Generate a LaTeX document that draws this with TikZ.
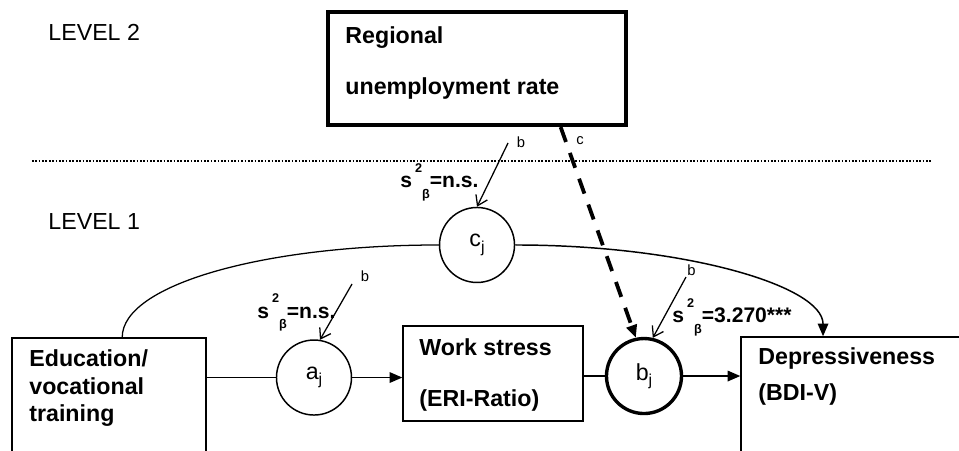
\documentclass[tikz,border=0pt]{standalone}
\usepackage{fontspec}
\setmainfont{Liberation Sans}
\usetikzlibrary{arrows.meta}
\newcommand{\sqbeta}{s\hspace{1.4pt}\raisebox{7.5pt}{\fontsize{6}{6}\selectfont 2}\raisebox{-4.8pt}{\fontsize{6}{6}\selectfont β}}
\newcommand{\subj}[1]{#1\raisebox{-2.5pt}{\fontsize{7.5}{8}\selectfont j}}
\begin{document}
\begin{tikzpicture}[
  box/.style={draw, line width=0.7pt, inner sep=0pt},
  par/.style={draw, circle, line width=0.7pt, minimum size=1.25cm, inner sep=0pt, font=\fontsize{11}{13}\selectfont},
  lvl/.style={anchor=base west, inner sep=0pt, font=\fontsize{11}{13}\selectfont},
  txt/.style={anchor=base west, inner sep=0pt, font=\bfseries\fontsize{11}{13}\selectfont},
  sig/.style={anchor=base west, inner sep=0pt, font=\bfseries\fontsize{10}{12}\selectfont},
  idx/.style={inner sep=0pt, font=\fontsize{7}{8}\selectfont},
  link/.style={line width=0.6pt},
  effect/.style={line width=0.7pt, -{Triangle[length=6pt,width=5pt]}},
  rand/.style={line width=0.6pt, -{Straight Barb[length=4.5pt,width=6pt]}}
]
\useasboundingbox (0,0) rectangle (15.983,7.5);
\clip (0,0) rectangle (15.983,7.5);
\node[lvl] (lv2) at (0.8,6.833) {LEVEL 2};
\node[lvl] (lv1) at (0.8,3.667) {LEVEL 1};
\node[box, line width=1.7pt, minimum width=4.975cm, minimum height=1.892cm] (reg) at (7.95,6.358) {};
\node[txt] (reg1) at (5.75,6.783) {Regional};
\node[txt] (reg2) at (5.75,5.917) {unemployment rate};
\draw[line width=0.9pt, dash pattern=on 0.8pt off 0.8pt] (0.533,4.817) -- (15.533,4.817);
\node[box, minimum width=3.233cm, minimum height=2.2cm] (edu) at (1.817,0.767) {};
\node[txt] (edu1) at (0.483,1.4) {Education/};
\node[txt] (edu2) at (0.483,0.917) {vocational};
\node[txt] (edu3) at (0.483,0.467) {training};
\node[box, minimum width=3cm, minimum height=1.583cm] (work) at (8.217,1.275) {};
\node[txt] (work1) at (6.983,1.567) {Work stress};
\node[txt] (work2) at (6.983,0.717) {(ERI-Ratio)};
\node[box, minimum width=3.983cm, minimum height=2.217cm] (dep) at (14.342,0.775) {};
\node[txt] (dep1) at (12.633,1.417) {Depressiveness};
\node[txt] (dep2) at (12.633,0.833) {(BDI-V)};
\node[par] (cj) at (7.95,3.417) {\subj{c}};
\node[par] (aj) at (5.233,1.208) {\subj{a}};
\node[par, line width=1.6pt] (bj) at (10.733,1.233) {\subj{b}};
\coordinate (cjb) at (8.467,5.117);
\coordinate (ajb) at (5.867,2.767);
\coordinate (bjb) at (11.433,2.883);
\node[idx] (cjl) at (8.683,5.133) {b};
\node[idx] (ajl) at (6.083,2.9) {b};
\node[idx] (bjl) at (11.525,3.0) {b};
\node[idx] (cl) at (9.667,5.15) {c};
\node[sig] (cjs) at (6.667,4.367) {\sqbeta=n.s.};
\node[sig] (ajs) at (4.283,2.2) {\sqbeta=n.s.};
\node[sig] (bjs) at (11.2,2.117) {\sqbeta=3.270***};
\draw[link] (edu.east |- aj) -- (aj);
\draw[effect] (aj) -- (aj -| work.west);
\draw[link] (work.east |- bj) -- (bj);
\draw[effect] (bj) -- (bj -| dep.west);
\draw[link] ([xshift=0.22cm]edu.north) .. controls +(0,0.875) and +(-2.917,0) .. (cj.west);
\draw[effect] (cj.east) .. controls +(2.827,0) and +(0,0.838) .. ([xshift=-0.625cm]dep.north);
\draw[line width=1.8pt, dash pattern=on 7.5pt off 5.5pt, -{Triangle[length=6pt,width=5pt]}] (reg.-35) -- (bj.102);
\draw[rand] (cjb) -- (cj.north);
\draw[rand] (ajb) -- (aj.81);
\draw[rand] (bjb) -- (bj.77);
\end{tikzpicture}
\end{document}
